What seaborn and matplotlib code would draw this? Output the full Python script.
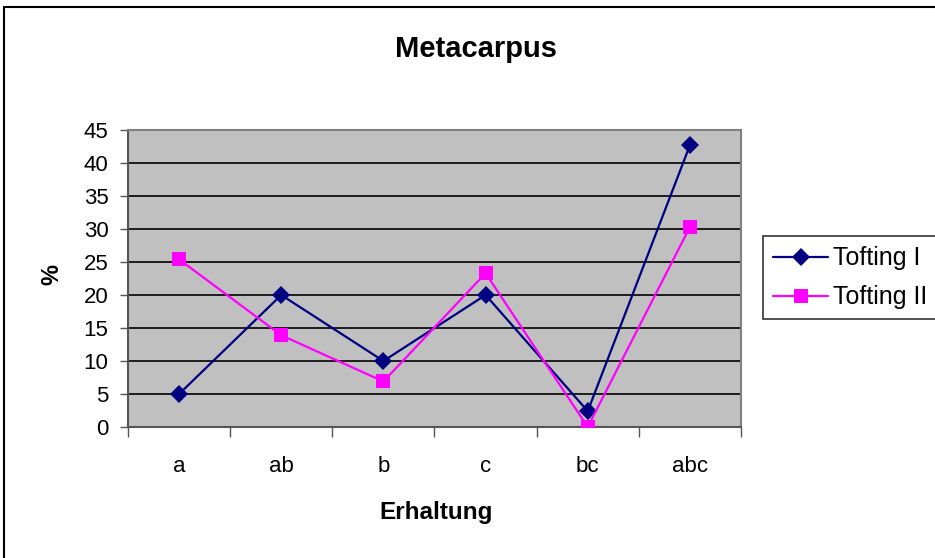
import pandas as pd
import seaborn as sns
import matplotlib.pyplot as plt
from matplotlib.patches import Rectangle
from matplotlib.ticker import FixedLocator

categories = ['a', 'ab', 'b', 'c', 'bc', 'abc']
tofting_1 = [5.0, 20.0, 10.0, 20.0, 2.4, 42.7]
tofting_2 = [25.4, 13.9, 6.9, 23.3, 0.0, 30.3]
series_names = ['Tofting I', 'Tofting II']

df = pd.DataFrame({
    'Erhaltung': categories * 2,
    '%': tofting_1 + tofting_2,
    'Serie': [series_names[0]] * len(categories) + [series_names[1]] * len(categories),
})

sns.set_style('white')
plt.rcParams['font.family'] = ['Liberation Sans', 'DejaVu Sans']
plt.rcParams['text.color'] = 'black'
plt.rcParams['xtick.labelcolor'] = 'black'
plt.rcParams['ytick.labelcolor'] = 'black'

fig = plt.figure(figsize=(9.35, 5.58), dpi=100)
ax = fig.add_axes([128 / 935, 1 - 427 / 558, (741 - 128) / 935, (427 - 130) / 558])
ax.set_facecolor('#c0c0c0')

sns.lineplot(data=df, x='Erhaltung', y='%', hue='Serie', style='Serie',
             palette={'Tofting I': '#000080', 'Tofting II': '#ff00ff'},
             markers={'Tofting I': 'D', 'Tofting II': 's'},
             dashes=False, markersize=9.5, linewidth=1.6, markeredgewidth=0,
             sort=False, ax=ax, legend=False, zorder=3)

ax.set_xlim(-0.5, 5.5)
ax.set_ylim(0, 45)
ax.set_yticks(range(0, 46, 5))
ax.yaxis.grid(True, color='black', linewidth=1.2)
ax.set_axisbelow(True)
ax.set_xticks(range(len(categories)))
ax.set_xticklabels(categories)
ax.xaxis.set_minor_locator(FixedLocator([i - 0.5 for i in range(len(categories) + 1)]))
ax.tick_params(axis='x', which='major', length=0, pad=21, labelsize=16)
ax.tick_params(axis='x', which='minor', length=7, width=1, color='#555555', direction='out')
ax.tick_params(axis='y', length=6, width=1, color='#555555', direction='out', labelsize=16, pad=8)
ax.tick_params(bottom=True, left=True, which='both')
for s in ax.spines.values():
    s.set_color('#808080')
    s.set_linewidth(1.5)
ax.spines['left'].set_color('#555555')
ax.spines['bottom'].set_color('#555555')

ax.set_xlabel('')
ax.set_ylabel('')
fig.text(476 / 935, 1 - 49 / 558, 'Metacarpus', ha='center', va='center',
         fontsize=21, fontweight='bold')
fig.text(436 / 935, 1 - 513 / 558, 'Erhaltung', ha='center', va='center',
         fontsize=17.5, fontweight='bold')
fig.text(52 / 935, 1 - 275 / 558, '%', ha='center', va='center', rotation=90,
         fontsize=17, fontweight='bold')

handles = [
    plt.Line2D([], [], color='#000080', marker='D', markersize=9.5, markeredgewidth=0, linewidth=1.6),
    plt.Line2D([], [], color='#ff00ff', marker='s', markersize=9.5, markeredgewidth=0, linewidth=1.6),
]
leg = fig.legend(handles, series_names, loc='center left', bbox_to_anchor=(763 / 935, 1 - 278 / 558),
                 frameon=True, fancybox=False, fontsize=18, handlelength=2.2, borderpad=0.4,
                 labelspacing=0.6, handletextpad=0.2, borderaxespad=0)
leg.get_frame().set_edgecolor('black')
leg.get_frame().set_linewidth(1.2)

fig.patches.append(Rectangle((4 / 935, -0.1), 1.1, 1.1 - 7 / 558, transform=fig.transFigure,
                             fill=False, edgecolor='black', linewidth=1.5))

fig.savefig('out.png', dpi=100)
